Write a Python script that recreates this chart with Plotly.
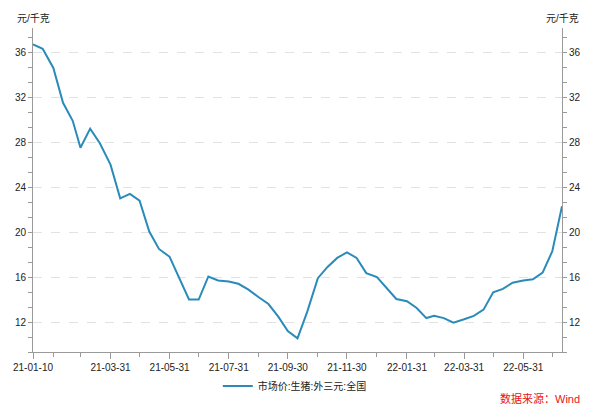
import plotly.graph_objects as go

dates = [
    "2021-01-10", "2021-01-20", "2021-01-31", "2021-02-10", "2021-02-20", "2021-02-28",
    "2021-03-10", "2021-03-20", "2021-03-31", "2021-04-10", "2021-04-20", "2021-04-30",
    "2021-05-10", "2021-05-20", "2021-05-31", "2021-06-10", "2021-06-20", "2021-06-30",
    "2021-07-10", "2021-07-20", "2021-07-31", "2021-08-10", "2021-08-20", "2021-08-31",
    "2021-09-10", "2021-09-20", "2021-09-30", "2021-10-10", "2021-10-20", "2021-10-31",
    "2021-11-10", "2021-11-20", "2021-11-30", "2021-12-10", "2021-12-20", "2021-12-31",
    "2022-01-10", "2022-01-20", "2022-01-31", "2022-02-10", "2022-02-20", "2022-02-28",
    "2022-03-10", "2022-03-20", "2022-03-31", "2022-04-10", "2022-04-20", "2022-04-30",
    "2022-05-10", "2022-05-20", "2022-05-31", "2022-06-10", "2022-06-20", "2022-06-30",
    "2022-07-10",
]
prices = [
    36.7, 36.3, 34.6, 31.5, 29.9, 27.5,
    29.2, 27.9, 26.0, 23.0, 23.4, 22.8,
    20.05, 18.5, 17.8, 15.9, 14.0, 14.0,
    16.05, 15.7, 15.6, 15.4, 14.9, 14.2,
    13.6, 12.5, 11.2, 10.55, 12.9, 15.9,
    16.9, 17.7, 18.2, 17.7, 16.35, 16.0,
    15.0, 14.05, 13.85, 13.25, 12.35, 12.55,
    12.35, 11.95, 12.25, 12.55, 13.1, 14.65,
    14.95, 15.5, 15.7, 15.8, 16.4, 18.3,
    22.3,
]
series_name = "市场价:生猪:外三元:全国"

x_tick_vals = ["2021-01-10", "2021-03-31", "2021-05-31", "2021-07-31", "2021-09-30",
               "2021-11-30", "2022-01-31", "2022-03-31", "2022-05-31"]
x_tick_text = ["21-01-10", "21-03-31", "21-05-31", "21-07-31", "21-09-30",
               "21-11-30", "22-01-31", "22-03-31", "22-05-31"]
x_minor_vals = ["2021-01-31", "2021-02-28", "2021-04-30", "2021-06-30", "2021-08-31",
                "2021-10-31", "2021-12-31", "2022-02-28", "2022-04-30", "2022-06-30"]

unit = "元/千克"
source = "数据来源：Wind"

font_family = "Liberation Sans, Arial, Noto Sans CJK SC, sans-serif"
axis_color = "#9a9a9a"
line_color = "#2a8bba"

fig = go.Figure()
fig.add_trace(go.Scatter(
    x=dates, y=prices, mode="lines", name=series_name,
    line=dict(color=line_color, width=2), yaxis="y",
))
fig.add_trace(go.Scatter(
    x=dates, y=prices, mode="lines", showlegend=False, hoverinfo="skip",
    line=dict(color="rgba(0,0,0,0)", width=0), yaxis="y2",
))

yrange = [9.3333, 38.15]
common_y = dict(
    range=yrange, dtick=4, tick0=0, showline=True, linecolor=axis_color, linewidth=1,
    ticks="outside", ticklen=4, tickcolor=axis_color,
    tickfont=dict(size=10, color="#222", family=font_family),
    minor=dict(dtick=4 / 3, tick0=0, ticks="outside", ticklen=4, tickcolor=axis_color,
               showgrid=False),
    zeroline=False, fixedrange=True, automargin=False,
)

fig.update_layout(
    width=600, height=407,
    margin=dict(l=33, r=38, t=28, b=55),
    paper_bgcolor="white", plot_bgcolor="white",
    font=dict(family=font_family, size=10, color="#222"),
    xaxis=dict(
        type="date", range=["2021-01-10", "2022-07-10"],
        tickmode="array", tickvals=x_tick_vals, ticktext=x_tick_text,
        ticks="outside", ticklen=6, tickcolor=axis_color,
        showline=True, linecolor=axis_color, linewidth=1, showgrid=False,
        tickfont=dict(size=10, color="#222", family=font_family),
        minor=dict(tickmode="array", tickvals=x_minor_vals, ticks="outside",
                   ticklen=4, tickcolor=axis_color, showgrid=False),
        zeroline=False, automargin=False,
    ),
    yaxis=dict(**common_y, side="left", showgrid=True, gridcolor="#e2e2e2",
               griddash="dash", gridwidth=1),
    yaxis2=dict(**common_y, side="right", overlaying="y", anchor="x", showgrid=False),
    showlegend=True,
    legend=dict(orientation="h", xref="container", yref="container",
                x=0.363, xanchor="left", y=0.0516, yanchor="middle",
                font=dict(size=10, color="#222", family=font_family),
                bgcolor="rgba(0,0,0,0)"),
    annotations=[
        dict(text=unit, xref="paper", yref="paper", x=0, y=1.03, xanchor="center",
             yanchor="middle", showarrow=False, font=dict(size=10, color="#222")),
        dict(text=unit, xref="paper", yref="paper", x=1, y=1.03, xanchor="center",
             yanchor="middle", showarrow=False, font=dict(size=10, color="#222")),
        dict(text=source, xref="paper", yref="paper", x=1.038, y=-0.142,
             xanchor="right", yanchor="middle", showarrow=False,
             font=dict(size=11, color="#e8131b")),
    ],
)

fig.write_html("out.html", config={"displayModeBar": False},
               post_script="document.body.style.margin='0';document.body.style.overflow='hidden';")
